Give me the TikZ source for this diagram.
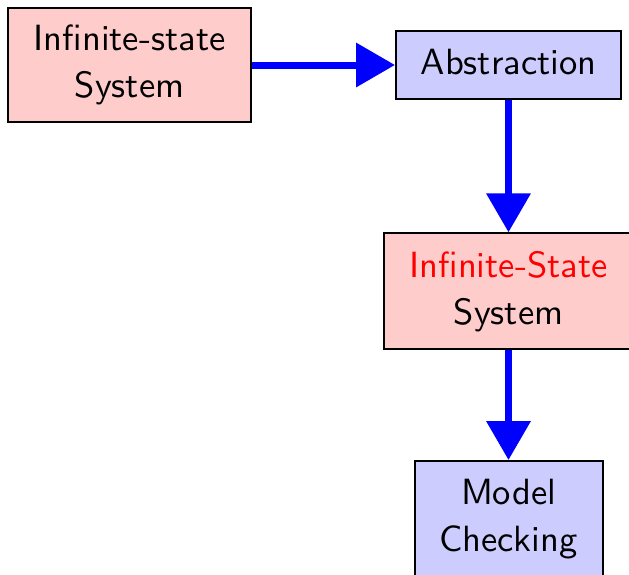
\documentclass[tikz,border=0pt]{standalone}
\usepackage{fontspec}
\usepackage{graphicx}
\usetikzlibrary{arrows.meta}
\newcommand\bigtxt[1]{\scalebox{3.65}{\fontsize{10}{12.9}\selectfont\sffamily\begin{tabular}{@{}c@{}}#1\end{tabular}}}
\tikzset{
  redbox/.style={draw=black, line width=2pt, fill=red!20, align=center, inner sep=0pt},
  bluebox/.style={draw=black, line width=2pt, fill=blue!20, align=center, inner sep=0pt},
  flow/.style={draw=blue, line width=7pt, -{Triangle[length=39pt, width=43pt]}},
}
\begin{document}
\begin{tikzpicture}[x=1pt, y=-1pt]
\useasboundingbox (0,0) rectangle (629,574);
\node[redbox, minimum width=243pt, minimum height=114pt] (inf) at (129.5,65) {\bigtxt{Infinite-state\\System}};
\node[bluebox, minimum width=225pt, minimum height=68pt] (abs) at (508.5,65) {\bigtxt{Abstraction}};
\node[redbox, minimum width=250pt, minimum height=116pt] (inf2) at (508.5,291.3) {\bigtxt{\textcolor{red}{Infinite-State}\\System}};
\node[bluebox, minimum width=188pt, minimum height=116pt] (mc) at (508.5,519) {\bigtxt{Model\\Checking}};
\draw[flow] (inf.east) -- (abs.west);
\draw[flow] (abs.south) -- (inf2.north);
\draw[flow] (inf2.south) -- (mc.north);
\end{tikzpicture}
\end{document}
